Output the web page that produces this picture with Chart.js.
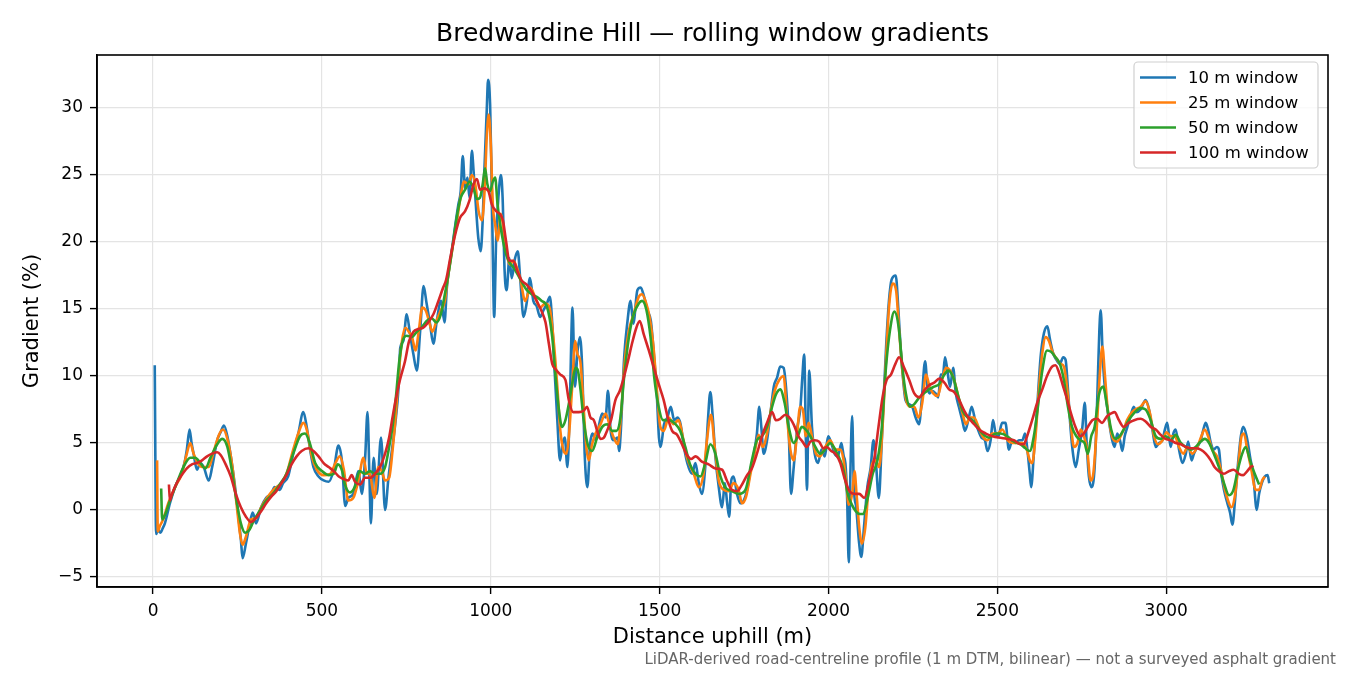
<!DOCTYPE html>
<html>
<head>
<meta charset="utf-8">
<title>Bredwardine Hill gradients</title>
<script src="https://cdn.jsdelivr.net/npm/chart.js@4.4.1/dist/chart.umd.min.js"></script>
<style>
    html, body { margin: 0; padding: 0; background: #fff; }
    #wrap { width: 1350px; height: 675px; position: relative; }
</style>
</head>
<body>
<div id="wrap"><canvas id="gradientChart"></canvas></div>
<script>
"use strict";

// [distance uphill (m), gradient (%)], one list per window
const profile10 = [
    [5, 10.8], [9, -1.8], [15, -1.5], [22, -1.7], [28, -1.4], [35, -1.0], [50, 0.5], [65, 1.7], [80, 2.5], [93, 3.5],
    [100, 4.5], [108, 6.0], [114, 5.0], [120, 4.2], [130, 3.0], [140, 3.5], [150, 3.2], [165, 2.2], [175, 3.2], [190, 5.2],
    [200, 5.8], [210, 6.3], [220, 5.5], [235, 3.2], [250, 0.2], [260, -2.2], [265, -3.6], [275, -2.5], [285, -1.2], [295, -0.2],
    [305, -1.0], [320, 0.2], [335, 0.9], [350, 1.2], [360, 1.7], [375, 1.5], [385, 2.0], [400, 2.5], [415, 4.2], [430, 5.7],
    [445, 7.3], [455, 6.2], [465, 4.5], [475, 3.2], [490, 2.5], [505, 2.2], [520, 2.1], [535, 3.0], [549, 4.8], [559, 3.7],
    [569, 0.3], [578, 0.9], [593, 1.2], [608, 2.9], [618, 1.2], [628, 3.9], [635, 7.3], [641, 2.2], [645, -1.0], [653, 3.9],
    [662, 1.2], [675, 5.4], [687, 0.0], [697, 2.4], [707, 4.4], [717, 6.4], [727, 9.2], [732, 12.1], [741, 12.6], [751, 14.6],
    [761, 13.1], [771, 11.6], [781, 10.4], [791, 13.4], [801, 16.7], [810, 15.4], [820, 13.9], [830, 12.4], [840, 14.1], [853, 15.6],
    [863, 14.0], [870, 16.6], [884, 19.3], [894, 21.1], [904, 22.8], [911, 23.8], [917, 26.4], [924, 24.0], [931, 24.8], [937, 23.3],
    [944, 26.8], [949, 25.3], [957, 22.3], [963, 20.3], [970, 19.3], [976, 21.6], [981, 25.3], [988, 29.8], [992, 32.1], [998, 30.2],
    [1002, 25.3], [1006, 19.1], [1010, 14.4], [1016, 20.3], [1023, 23.5], [1030, 25.0], [1035, 23.3], [1041, 17.8], [1047, 16.4], [1055, 18.8],
    [1062, 17.3], [1072, 18.8], [1080, 19.3], [1087, 17.3], [1097, 14.4], [1106, 15.4], [1116, 17.3], [1126, 15.6], [1136, 15.2], [1146, 14.4],
    [1156, 14.9], [1166, 15.4], [1175, 15.9], [1182, 13.9], [1189, 10.4], [1197, 6.7], [1205, 3.7], [1212, 4.9], [1219, 5.4], [1227, 3.2],
    [1234, 7.9], [1242, 15.1], [1249, 9.2], [1257, 11.9], [1264, 12.9], [1271, 10.4], [1278, 4.2], [1286, 1.7], [1294, 4.9], [1301, 5.7],
    [1311, 5.2], [1321, 6.4], [1330, 7.2], [1340, 6.9], [1347, 8.9], [1355, 5.9], [1365, 5.2], [1375, 5.4], [1380, 4.4], [1385, 5.9],
    [1395, 11.4], [1404, 13.9], [1414, 15.6], [1422, 13.9], [1434, 16.4], [1444, 16.6], [1454, 15.9], [1464, 14.9], [1474, 14.1], [1483, 11.6],
    [1491, 8.9], [1498, 5.4], [1503, 4.7], [1513, 6.4], [1523, 6.9], [1533, 7.7], [1543, 6.7], [1553, 6.9], [1562, 6.4], [1572, 4.7],
    [1582, 3.5], [1596, 2.7], [1606, 3.5], [1616, 2.0], [1625, 1.2], [1635, 3.2], [1643, 6.7], [1650, 8.8], [1657, 7.0], [1665, 4.0],
    [1675, 1.7], [1685, 0.2], [1693, 2.0], [1700, 0.5], [1706, -0.5], [1712, 2.2], [1719, 2.5], [1729, 1.2], [1739, 0.5], [1749, 0.7],
    [1759, 1.5], [1769, 3.0], [1778, 4.0], [1788, 5.7], [1795, 7.7], [1801, 6.2], [1808, 4.2], [1818, 5.2], [1828, 7.2], [1838, 9.2],
    [1848, 9.9], [1857, 10.7], [1867, 10.6], [1874, 9.2], [1882, 6.0], [1889, 1.2], [1897, 3.2], [1907, 6.0], [1917, 7.7], [1922, 9.7],
    [1928, 11.6], [1933, 5.2], [1936, 1.5], [1943, 10.4], [1951, 6.2], [1959, 4.2], [1969, 3.5], [1979, 4.5], [1989, 4.0], [1999, 5.5],
    [2008, 5.0], [2018, 4.2], [2028, 4.0], [2038, 5.0], [2045, 4.0], [2050, 3.5], [2055, 1.0], [2060, -3.9], [2065, 3.0], [2070, 7.0],
    [2075, 1.7], [2082, 0.2], [2090, -2.3], [2097, -3.5], [2105, -1.3], [2115, 1.7], [2125, 3.2], [2133, 5.2], [2140, 3.7], [2149, 0.9],
    [2157, 4.7], [2164, 8.7], [2171, 12.4], [2179, 15.6], [2187, 17.2], [2199, 17.5], [2207, 14.9], [2214, 11.9], [2221, 9.7], [2228, 8.2],
    [2238, 7.9], [2248, 7.7], [2258, 6.9], [2268, 6.4], [2276, 8.2], [2286, 11.1], [2293, 9.2], [2299, 8.7], [2307, 8.9], [2317, 8.7],
    [2325, 8.4], [2332, 10.1], [2339, 10.1], [2345, 11.4], [2352, 10.4], [2360, 9.2], [2369, 10.6], [2377, 8.7], [2386, 7.7], [2396, 6.7],
    [2404, 5.9], [2414, 6.7], [2424, 7.7], [2434, 6.7], [2444, 5.9], [2453, 5.4], [2463, 5.2], [2471, 4.4], [2480, 5.2], [2487, 6.7],
    [2495, 5.7], [2503, 5.5], [2514, 6.5], [2524, 6.5], [2534, 4.5], [2544, 5.2], [2554, 5.0], [2564, 5.2], [2574, 5.2], [2582, 5.7],
    [2588, 4.7], [2596, 2.7], [2600, 1.7], [2608, 4.2], [2618, 7.7], [2628, 11.4], [2638, 13.2], [2648, 13.7], [2656, 12.7], [2665, 11.7],
    [2675, 11.2], [2685, 10.9], [2695, 11.4], [2702, 11.2], [2709, 9.0], [2717, 6.0], [2725, 4.0], [2732, 3.2], [2741, 4.5], [2751, 6.0],
    [2759, 8.0], [2764, 5.2], [2771, 2.5], [2779, 1.7], [2788, 3.2], [2796, 8.5], [2802, 13.4], [2806, 14.9], [2812, 11.4], [2817, 9.5],
    [2825, 7.7], [2833, 6.2], [2840, 5.2], [2847, 4.7], [2855, 5.7], [2863, 5.2], [2870, 4.4], [2877, 5.5], [2885, 6.2], [2894, 7.0],
    [2904, 7.7], [2912, 7.3], [2924, 7.5], [2939, 8.2], [2949, 7.5], [2959, 6.0], [2969, 4.7], [2979, 5.0], [2989, 5.2], [2996, 6.0],
    [3003, 6.5], [3013, 4.7], [3021, 5.7], [3028, 6.0], [3038, 4.5], [3048, 3.5], [3058, 4.2], [3065, 5.1], [3075, 3.7], [3082, 4.2],
    [3092, 4.7], [3102, 5.2], [3110, 6.0], [3117, 6.5], [3124, 6.0], [3132, 5.0], [3140, 4.5], [3150, 4.7], [3156, 4.5], [3163, 2.7],
    [3171, 1.5], [3181, 0.5], [3189, -0.2], [3196, -1.1], [3203, 0.5], [3211, 3.0], [3221, 5.5], [3228, 6.2], [3238, 5.5], [3248, 4.0],
    [3258, 2.5], [3268, 0.0], [3275, 1.2], [3283, 2.0], [3292, 2.5], [3300, 2.6], [3305, 2.0]
];

const profile25 = [
    [12, 3.7], [14, -1.6], [20, -1.2], [30, -0.7], [45, 0.5], [65, 1.7], [85, 2.7], [100, 4.2], [110, 5.0], [120, 4.2],
    [135, 3.4], [150, 3.2], [165, 3.2], [180, 4.4], [195, 5.6], [207, 6.0], [220, 5.3], [235, 3.2], [247, 0.5], [257, -1.7],
    [265, -2.6], [275, -2.0], [290, -0.7], [305, -0.6], [320, 0.2], [340, 1.0], [360, 1.6], [380, 2.0], [395, 2.7], [415, 4.5],
    [430, 5.7], [445, 6.5], [455, 6.0], [470, 4.0], [485, 3.0], [505, 2.6], [525, 2.7], [540, 3.5], [553, 4.0], [565, 3.0],
    [578, 0.7], [593, 0.9], [608, 2.2], [623, 3.9], [633, 2.7], [642, 2.7], [655, 0.9], [667, 3.2], [677, 2.9], [687, 2.2],
    [699, 2.4], [709, 4.4], [719, 7.2], [729, 10.6], [737, 12.6], [747, 13.6], [757, 13.3], [767, 12.9], [777, 11.9], [787, 13.4],
    [797, 15.1], [807, 14.9], [817, 14.1], [827, 13.3], [839, 14.1], [852, 14.9], [864, 15.6], [870, 16.8], [885, 19.3], [900, 21.6],
    [909, 23.1], [921, 24.5], [934, 24.3], [944, 25.0], [954, 24.3], [964, 22.3], [974, 21.6], [982, 24.0], [988, 27.8], [994, 29.5],
    [1000, 27.3], [1006, 22.8], [1013, 21.3], [1020, 20.1], [1030, 22.1], [1037, 21.1], [1047, 19.1], [1057, 18.3], [1067, 18.6], [1077, 18.1],
    [1087, 17.3], [1102, 15.6], [1117, 16.6], [1131, 15.9], [1146, 15.1], [1161, 15.4], [1174, 15.1], [1187, 12.4], [1197, 9.2], [1206, 5.9],
    [1216, 4.4], [1224, 4.2], [1231, 5.4], [1241, 9.2], [1250, 12.6], [1257, 11.6], [1265, 11.1], [1273, 8.4], [1283, 4.7], [1290, 3.7],
    [1300, 4.9], [1310, 5.7], [1325, 6.4], [1340, 7.2], [1353, 6.2], [1364, 5.4], [1376, 4.9], [1386, 7.2], [1396, 10.9], [1409, 13.4],
    [1423, 14.6], [1438, 15.9], [1448, 16.1], [1458, 15.6], [1470, 14.4], [1482, 12.1], [1492, 8.9], [1502, 6.2], [1512, 5.9], [1527, 6.9],
    [1541, 6.4], [1556, 6.7], [1569, 5.4], [1581, 3.9], [1601, 2.7], [1616, 1.7], [1630, 2.7], [1640, 5.2], [1652, 7.1], [1663, 4.7],
    [1675, 2.2], [1690, 1.5], [1704, 1.4], [1719, 2.0], [1734, 1.5], [1744, 0.5], [1756, 1.0], [1769, 2.7], [1783, 4.5], [1793, 5.6],
    [1805, 4.7], [1818, 5.7], [1831, 7.7], [1842, 9.0], [1854, 9.7], [1867, 10.0], [1877, 7.0], [1887, 4.5], [1897, 3.7], [1907, 5.7],
    [1916, 7.7], [1924, 7.5], [1933, 5.5], [1941, 6.5], [1951, 5.5], [1963, 4.2], [1975, 4.0], [1990, 4.7], [2005, 5.2], [2020, 4.5],
    [2035, 4.5], [2044, 3.8], [2052, 2.2], [2060, 0.4], [2070, 1.2], [2077, 2.9], [2083, 1.2], [2091, -1.3], [2099, -2.5], [2109, -1.3],
    [2119, 1.7], [2129, 3.4], [2139, 3.7], [2150, 3.2], [2160, 6.2], [2170, 11.1], [2180, 15.4], [2190, 16.9], [2200, 16.4], [2210, 13.1],
    [2220, 10.1], [2230, 8.2], [2242, 7.7], [2254, 7.7], [2266, 6.9], [2277, 7.9], [2289, 10.1], [2299, 9.2], [2310, 8.7], [2323, 8.5],
    [2336, 9.7], [2348, 10.6], [2360, 10.4], [2372, 9.7], [2385, 8.4], [2397, 7.2], [2407, 6.4], [2419, 6.9], [2431, 6.9], [2444, 6.2],
    [2456, 5.5], [2471, 5.2], [2484, 5.7], [2500, 5.7], [2515, 6.0], [2530, 5.2], [2544, 5.0], [2559, 5.0], [2574, 5.0], [2587, 4.5],
    [2596, 3.7], [2603, 3.5], [2613, 5.5], [2623, 9.0], [2633, 11.7], [2643, 12.9], [2653, 12.6], [2663, 11.8], [2675, 11.3], [2687, 10.9],
    [2697, 10.7], [2707, 9.0], [2717, 6.5], [2727, 4.7], [2737, 5.0], [2747, 6.0], [2756, 5.5], [2766, 4.5], [2776, 2.2], [2784, 2.7],
    [2794, 6.0], [2804, 10.4], [2811, 12.2], [2818, 10.2], [2826, 7.7], [2835, 6.0], [2845, 5.2], [2855, 5.1], [2865, 5.5], [2874, 6.0],
    [2884, 6.7], [2899, 7.3], [2909, 7.5], [2924, 7.7], [2939, 8.1], [2952, 7.2], [2964, 5.5], [2976, 4.9], [2989, 5.2], [3001, 5.8],
    [3013, 5.5], [3025, 5.5], [3038, 4.7], [3051, 4.2], [3063, 4.7], [3077, 4.2], [3092, 4.7], [3104, 5.5], [3114, 6.0], [3124, 5.5],
    [3136, 4.5], [3150, 4.0], [3162, 3.0], [3174, 1.5], [3183, 0.7], [3193, 0.2], [3203, 1.0], [3213, 3.2], [3223, 5.5], [3230, 5.7],
    [3240, 4.5], [3252, 3.0], [3265, 1.5], [3275, 1.5], [3284, 2.2], [3292, 2.5]
];

const profile50 = [
    [24, 1.6], [27, -0.7], [35, -0.4], [50, 0.7], [70, 2.0], [90, 3.2], [110, 3.9], [125, 3.9], [140, 3.5], [155, 3.1],
    [170, 3.9], [190, 4.9], [205, 5.3], [220, 4.7], [233, 3.0], [245, 1.0], [260, -1.0], [273, -1.7], [285, -1.5], [300, -0.7],
    [315, -0.1], [335, 0.7], [355, 1.2], [375, 1.9], [395, 2.7], [415, 4.2], [435, 5.5], [450, 5.7], [465, 4.9], [480, 3.5],
    [500, 2.9], [520, 2.6], [535, 2.7], [547, 3.4], [560, 2.9], [568, 1.9], [583, 1.3], [597, 1.7], [612, 2.9], [627, 2.7],
    [642, 2.9], [657, 2.7], [672, 2.7], [687, 3.2], [699, 4.7], [709, 6.2], [719, 8.4], [729, 11.1], [739, 12.6], [751, 13.0],
    [766, 12.9], [781, 13.3], [795, 13.6], [810, 14.1], [825, 14.3], [839, 14.0], [852, 14.6], [864, 16.1], [872, 17.2], [885, 19.3],
    [899, 21.8], [911, 23.3], [924, 23.9], [937, 24.5], [949, 24.0], [959, 23.2], [968, 23.3], [976, 24.3], [983, 25.5], [990, 24.3],
    [998, 23.8], [1006, 24.5], [1013, 24.8], [1020, 22.8], [1028, 21.3], [1036, 20.1], [1045, 19.1], [1055, 18.5], [1067, 18.1], [1079, 17.6],
    [1092, 17.0], [1107, 16.4], [1121, 16.1], [1136, 15.9], [1151, 15.6], [1166, 15.2], [1182, 12.9], [1192, 9.9], [1202, 7.4], [1211, 6.2],
    [1221, 6.7], [1231, 7.9], [1241, 9.4], [1251, 10.6], [1258, 10.4], [1266, 8.9], [1275, 6.7], [1287, 4.9], [1300, 4.4], [1315, 5.4],
    [1330, 6.2], [1345, 6.4], [1359, 5.9], [1372, 5.9], [1384, 6.9], [1394, 9.7], [1409, 12.9], [1423, 14.6], [1438, 15.4], [1448, 15.6],
    [1461, 14.9], [1473, 12.9], [1484, 9.9], [1497, 7.7], [1510, 6.7], [1527, 6.7], [1547, 6.4], [1561, 5.9], [1576, 4.7], [1590, 3.4],
    [1606, 2.7], [1621, 2.5], [1635, 3.5], [1650, 4.9], [1665, 4.2], [1680, 2.5], [1694, 1.7], [1714, 1.4], [1734, 1.2], [1754, 1.5],
    [1773, 3.7], [1788, 5.2], [1803, 5.5], [1818, 6.2], [1833, 7.7], [1844, 8.6], [1857, 9.0], [1870, 8.0], [1882, 6.2], [1897, 5.0],
    [1909, 5.5], [1921, 6.2], [1933, 6.0], [1946, 5.5], [1961, 4.7], [1975, 4.2], [1990, 4.5], [2005, 5.0], [2020, 4.5], [2035, 3.7],
    [2045, 2.9], [2057, 1.2], [2069, 0.4], [2081, -0.1], [2093, -0.3], [2103, -0.3], [2116, 0.9], [2131, 2.7], [2145, 3.7], [2158, 6.2],
    [2170, 10.6], [2182, 13.4], [2195, 14.8], [2208, 13.6], [2219, 10.6], [2229, 8.7], [2241, 7.7], [2254, 7.9], [2269, 8.4], [2283, 8.7],
    [2298, 9.0], [2313, 9.2], [2328, 9.4], [2343, 10.1], [2355, 10.4], [2369, 9.9], [2382, 8.7], [2397, 7.4], [2412, 6.9], [2426, 6.7],
    [2441, 6.2], [2456, 5.7], [2476, 5.4], [2496, 5.7], [2509, 5.7], [2529, 5.5], [2549, 5.1], [2569, 4.9], [2583, 4.6], [2596, 4.4],
    [2608, 5.5], [2620, 7.7], [2633, 10.4], [2647, 11.9], [2659, 11.8], [2672, 11.4], [2685, 10.9], [2697, 9.7], [2709, 7.7], [2721, 6.2],
    [2734, 5.5], [2746, 5.2], [2758, 5.0], [2768, 4.2], [2778, 5.5], [2788, 6.2], [2800, 8.5], [2813, 9.2], [2825, 7.7], [2837, 6.0],
    [2850, 5.3], [2862, 5.5], [2874, 6.0], [2889, 6.7], [2904, 7.2], [2924, 7.6], [2939, 7.5], [2954, 6.7], [2969, 5.5], [2984, 5.3],
    [2998, 5.5], [3013, 5.2], [3028, 5.6], [3043, 5.0], [3058, 4.7], [3072, 4.5], [3087, 4.7], [3102, 5.1], [3114, 5.3], [3127, 5.0],
    [3141, 4.2], [3156, 3.2], [3171, 2.0], [3186, 1.1], [3199, 1.5], [3212, 3.0], [3225, 4.2], [3235, 4.7], [3248, 3.7], [3262, 2.7],
    [3275, 1.9]
];

const profile100 = [
    [47, 1.9], [50, 0.7], [55, 1.1], [70, 2.0], [85, 2.6], [100, 3.1], [115, 3.4], [130, 3.5], [145, 3.7], [160, 4.0],
    [175, 4.2], [190, 4.3], [200, 4.1], [215, 3.4], [230, 2.5], [245, 1.2], [260, 0.2], [275, -0.5], [290, -0.9], [305, -0.6],
    [320, -0.1], [335, 0.5], [350, 1.0], [365, 1.4], [380, 2.0], [395, 2.6], [410, 3.4], [425, 4.0], [440, 4.4], [460, 4.6],
    [475, 4.4], [490, 4.0], [505, 3.5], [520, 3.2], [535, 2.9], [550, 2.5], [565, 2.3], [578, 2.2], [588, 2.6], [598, 2.1],
    [613, 1.9], [628, 2.4], [643, 2.4], [657, 2.7], [672, 3.2], [687, 4.2], [699, 5.4], [709, 6.9], [719, 8.3], [731, 9.7],
    [746, 11.1], [758, 12.6], [771, 13.3], [785, 13.5], [800, 13.6], [815, 14.0], [830, 14.6], [845, 15.6], [859, 16.6], [868, 17.2],
    [880, 18.8], [895, 20.6], [909, 21.8], [924, 22.3], [937, 23.1], [949, 24.3], [959, 24.7], [968, 23.9], [980, 24.0], [993, 23.8],
    [1003, 22.8], [1016, 22.3], [1026, 22.1], [1036, 21.6], [1045, 20.1], [1055, 18.6], [1067, 18.6], [1079, 17.8], [1092, 17.1], [1107, 16.8],
    [1121, 16.3], [1136, 15.6], [1151, 14.8], [1162, 14.0], [1172, 12.4], [1182, 10.9], [1192, 10.5], [1206, 10.1], [1221, 9.7], [1231, 8.2],
    [1244, 7.3], [1261, 7.3], [1275, 7.4], [1285, 7.7], [1295, 6.9], [1305, 6.7], [1315, 5.9], [1325, 5.3], [1335, 5.4], [1344, 5.9],
    [1356, 6.7], [1369, 8.2], [1382, 8.9], [1394, 9.9], [1406, 11.1], [1418, 12.4], [1431, 13.6], [1441, 14.1], [1453, 13.1], [1468, 11.9],
    [1483, 10.6], [1497, 9.4], [1512, 8.2], [1524, 6.9], [1537, 5.9], [1552, 5.6], [1566, 4.9], [1581, 4.1], [1593, 3.8], [1606, 4.0],
    [1625, 3.6], [1645, 3.4], [1665, 3.1], [1685, 3.0], [1699, 2.2], [1714, 1.5], [1729, 1.4], [1744, 1.9], [1759, 2.6], [1773, 3.1],
    [1788, 4.2], [1803, 5.5], [1818, 6.5], [1833, 7.3], [1844, 6.7], [1857, 6.8], [1872, 7.1], [1887, 6.8], [1900, 6.2], [1911, 5.5],
    [1923, 5.1], [1936, 4.7], [1946, 5.1], [1959, 5.2], [1972, 5.1], [1985, 4.6], [1995, 4.7], [2008, 4.4], [2020, 4.2], [2035, 3.5],
    [2047, 2.4], [2062, 1.4], [2076, 1.2], [2091, 1.2], [2106, 0.9], [2121, 2.2], [2136, 3.9], [2148, 6.2], [2160, 8.4], [2172, 9.7],
    [2185, 10.1], [2198, 10.9], [2209, 11.4], [2224, 10.6], [2239, 9.7], [2254, 8.7], [2269, 8.4], [2283, 8.9], [2298, 9.3], [2313, 9.5],
    [2328, 9.8], [2343, 9.5], [2357, 9.0], [2372, 8.8], [2387, 8.2], [2402, 7.4], [2417, 6.8], [2431, 6.4], [2446, 6.0], [2466, 5.7],
    [2486, 5.5], [2503, 5.4], [2529, 5.3], [2549, 5.2], [2569, 4.9], [2578, 4.9], [2588, 5.5], [2603, 6.7], [2618, 8.0], [2633, 9.0],
    [2647, 10.0], [2662, 10.7], [2672, 10.8], [2682, 10.3], [2695, 9.2], [2707, 8.2], [2718, 7.2], [2731, 6.2], [2746, 5.5], [2756, 5.7],
    [2768, 6.2], [2781, 6.7], [2795, 6.8], [2810, 6.5], [2825, 7.0], [2837, 7.2], [2847, 7.3], [2860, 6.7], [2874, 6.2], [2889, 6.5],
    [2905, 6.7], [2924, 6.8], [2939, 6.6], [2954, 6.2], [2969, 6.0], [2984, 5.6], [2998, 5.3], [3013, 5.2], [3028, 5.0], [3043, 4.9],
    [3058, 4.7], [3072, 4.6], [3087, 4.6], [3102, 4.5], [3117, 4.2], [3132, 3.7], [3143, 3.2], [3156, 2.9], [3171, 2.7], [3186, 2.9],
    [3200, 3.0], [3215, 2.7], [3228, 2.6], [3240, 2.9], [3250, 3.2], [3258, 3.3]
];

const seriesLabels = ['10 m window', '25 m window', '50 m window', '100 m window'];
const seriesColors = ['#1f77b4', '#ff7f0e', '#2ca02c', '#d62728'];
const xTicks = [0, 500, 1000, 1500, 2000, 2500, 3000];
const yTicks = [-5, 0, 5, 10, 15, 20, 25, 30];

const chartTitle = 'Bredwardine Hill \u2014 rolling window gradients';
const footnote = 'LiDAR-derived road-centreline profile (1 m DTM, bilinear) \u2014 not a surveyed asphalt gradient';
const FONT = "'DejaVu Sans', sans-serif";

Chart.defaults.font.family = FONT;
Chart.defaults.color = '#000';

function toPoints(rows) {
    return rows.map(r => ({ x: r[0], y: r[1] }));
}

const profiles = [profile10, profile25, profile50, profile100];

const datasets = profiles.map((rows, i) => ({
    label: seriesLabels[i],
    data: toPoints(rows),
    borderColor: seriesColors[i],
    backgroundColor: seriesColors[i],
    borderWidth: 2.6,
    pointRadius: 0,
    cubicInterpolationMode: 'monotone',
    fill: false,
    order: profiles.length - i
}));

// axes box, title, legend and footnote drawn the matplotlib way
const decorations = {
    id: 'decorations',
    afterDraw(chart) {
        const ctx = chart.ctx;
        const area = chart.chartArea;
        ctx.save();

        ctx.strokeStyle = '#000';
        ctx.lineWidth = 1.6;
        ctx.strokeRect(area.left, area.top, area.right - area.left, area.bottom - area.top);

        ctx.fillStyle = '#000';
        ctx.font = '25px ' + FONT;
        ctx.textAlign = 'center';
        ctx.textBaseline = 'middle';
        ctx.fillText(chartTitle, (area.left + area.right) / 2, 34);

        // legend box, upper right
        const boxX = 1134, boxY = 62, boxW = 184, boxH = 106;
        ctx.beginPath();
        ctx.roundRect(boxX, boxY, boxW, boxH, 4);
        ctx.fillStyle = 'rgba(255,255,255,0.8)';
        ctx.fill();
        ctx.strokeStyle = '#d0d0d0';
        ctx.lineWidth = 1.2;
        ctx.stroke();

        ctx.font = '16.5px ' + FONT;
        ctx.textAlign = 'left';
        chart.data.datasets.forEach((ds, i) => {
            const y = 77.5 + i * 25;
            ctx.strokeStyle = ds.borderColor;
            ctx.lineWidth = 2.6;
            ctx.beginPath();
            ctx.moveTo(1140, y);
            ctx.lineTo(1176, y);
            ctx.stroke();
            ctx.fillStyle = '#000';
            ctx.fillText(ds.label, 1188, y + 1);
        });

        ctx.font = '15px ' + FONT;
        ctx.fillStyle = '#666';
        ctx.textAlign = 'right';
        ctx.fillText(footnote, 1336, 660);
        ctx.restore();
    }
};

new Chart(document.getElementById('gradientChart'), {
    type: 'line',
    data: { datasets: datasets },
    options: {
        responsive: true,
        maintainAspectRatio: false,
        animation: false,
        devicePixelRatio: 1,
        layout: { padding: { left: 0, right: 22, top: 55, bottom: 25 } },
        plugins: {
            legend: { display: false },
            tooltip: { enabled: false }
        },
        scales: {
            x: {
                type: 'linear',
                min: -166,
                max: 3479,
                afterBuildTicks: scale => { scale.ticks = xTicks.map(v => ({ value: v })); },
                afterFit: scale => { scale.height = 63; },
                ticks: {
                    font: { size: 17 },
                    padding: 7,
                    maxRotation: 0,
                    callback: value => String(value)
                },
                grid: {
                    color: '#e4e4e4',
                    lineWidth: 1.2,
                    tickColor: '#000',
                    tickWidth: 1.4,
                    tickLength: 7
                },
                border: { display: true, color: '#000', width: 1.6 },
                title: {
                    display: true,
                    text: 'Distance uphill (m)',
                    font: { size: 21 },
                    padding: { top: 0, bottom: 0 }
                }
            },
            y: {
                min: -5.75,
                max: 33.95,
                afterBuildTicks: scale => { scale.ticks = yTicks.map(v => ({ value: v })); },
                afterFit: scale => { scale.width = 97; },
                ticks: {
                    font: { size: 17 },
                    padding: 7,
                    callback: value => (value < 0 ? '\u2212' + Math.abs(value) : String(value))
                },
                grid: {
                    color: '#e4e4e4',
                    lineWidth: 1.2,
                    tickColor: '#000',
                    tickWidth: 1.4,
                    tickLength: 7
                },
                border: { display: true, color: '#000', width: 1.6 },
                title: {
                    display: true,
                    text: 'Gradient (%)',
                    font: { size: 21 },
                    padding: { top: 20, bottom: 0 }
                }
            }
        }
    },
    plugins: [decorations]
});
</script>
</body>
</html>
